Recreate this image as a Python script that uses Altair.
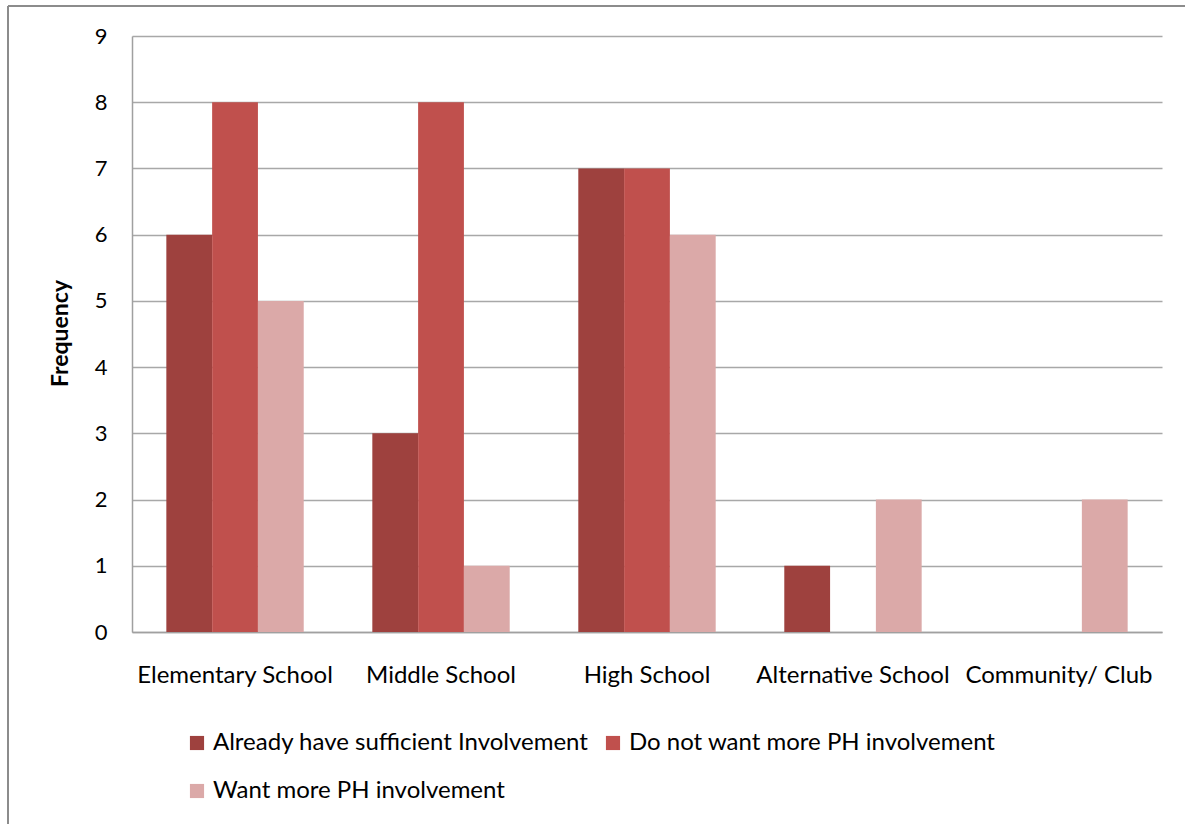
import altair as alt
import pandas as pd

# Settings and response categories
settings = ["Elementary School", "Middle School", "High School",
            "Alternative School", "Community/ Club"]
series = ["Already have sufficient Involvement",
          "Do not want more PH involvement",
          "Want more PH involvement"]
already_sufficient = [6, 3, 7, 1, 0]
do_not_want_more = [8, 8, 7, 0, 0]
want_more = [5, 1, 6, 2, 2]
colors = ["#9E413E", "#C0504D", "#DBA9A8"]
y_ticks = list(range(0, 10))

rows = []
for name, values in zip(series, [already_sufficient, do_not_want_more, want_more]):
    for s, v in zip(settings, values):
        rows.append({"Setting": s, "Response": name, "Frequency": v})
df = pd.DataFrame(rows)

FONT = "Lato"
W, H = 1030, 596

bars = alt.Chart(df).mark_bar().encode(
    x=alt.X("Setting:N", sort=settings,
            scale=alt.Scale(paddingInner=0.333, paddingOuter=0.1667),
            axis=alt.Axis(title=None, labelAngle=0, labelFont=FONT,
                          labelFontSize=24, labelColor="#000000",
                          labelPadding=43, labelBaseline="middle",
                          labelLimit=400, labelOverlap=False,
                          ticks=False, domainColor="#A0A0A0",
                          domainWidth=1.5, grid=False)),
    xOffset=alt.XOffset("Response:N", sort=series),
    y=alt.Y("Frequency:Q",
            scale=alt.Scale(domain=[0, 9], nice=False),
            axis=alt.Axis(title="Frequency", values=y_ticks, format="d",
                          labelFont=FONT, labelFontSize=22,
                          labelColor="#000000", labelPadding=25,
                          ticks=False, domainColor="#A0A0A0",
                          domainWidth=1.5, gridColor="#A8A8A8",
                          gridWidth=1.5, titleFont=FONT,
                          titleFontSize=23, titleFontWeight="bold",
                          titleColor="#000000", titleX=-72, titleY=297,
                          titleAngle=270, titleBaseline="middle",
                          titleAlign="center")),
    color=alt.Color("Response:N", sort=series,
                    scale=alt.Scale(domain=series, range=colors),
                    legend=alt.Legend(title=None, orient="none",
                                      legendX=53, legendY=695,
                                      direction="horizontal", columns=2,
                                      symbolType="square", symbolSize=200,
                                      symbolStrokeWidth=0,
                                      labelFont=FONT, labelFontSize=24,
                                      labelColor="#000000", labelLimit=600,
                                      labelOffset=4, columnPadding=12,
                                      rowPadding=24)),
)

# Outer frame lines along the top and left edge of the figure
frame_top = alt.Chart().mark_rule(color="#8C8C8C", strokeWidth=2).encode(
    x=alt.value(-124), x2=alt.value(W + 30), y=alt.value(-30))
frame_left = alt.Chart().mark_rule(color="#8C8C8C", strokeWidth=2).encode(
    x=alt.value(-124), y=alt.value(-30), y2=alt.value(H + 200))

chart = alt.layer(bars, frame_top, frame_left).properties(
    width=W, height=H,
    autosize=alt.AutoSizeParams(type="none"),
    padding={"left": 132, "top": 36, "right": 23, "bottom": 192},
    background="#FFFFFF",
).configure_view(stroke=None)

chart.save("out.html", embed_options={"renderer": "svg", "actions": False})
